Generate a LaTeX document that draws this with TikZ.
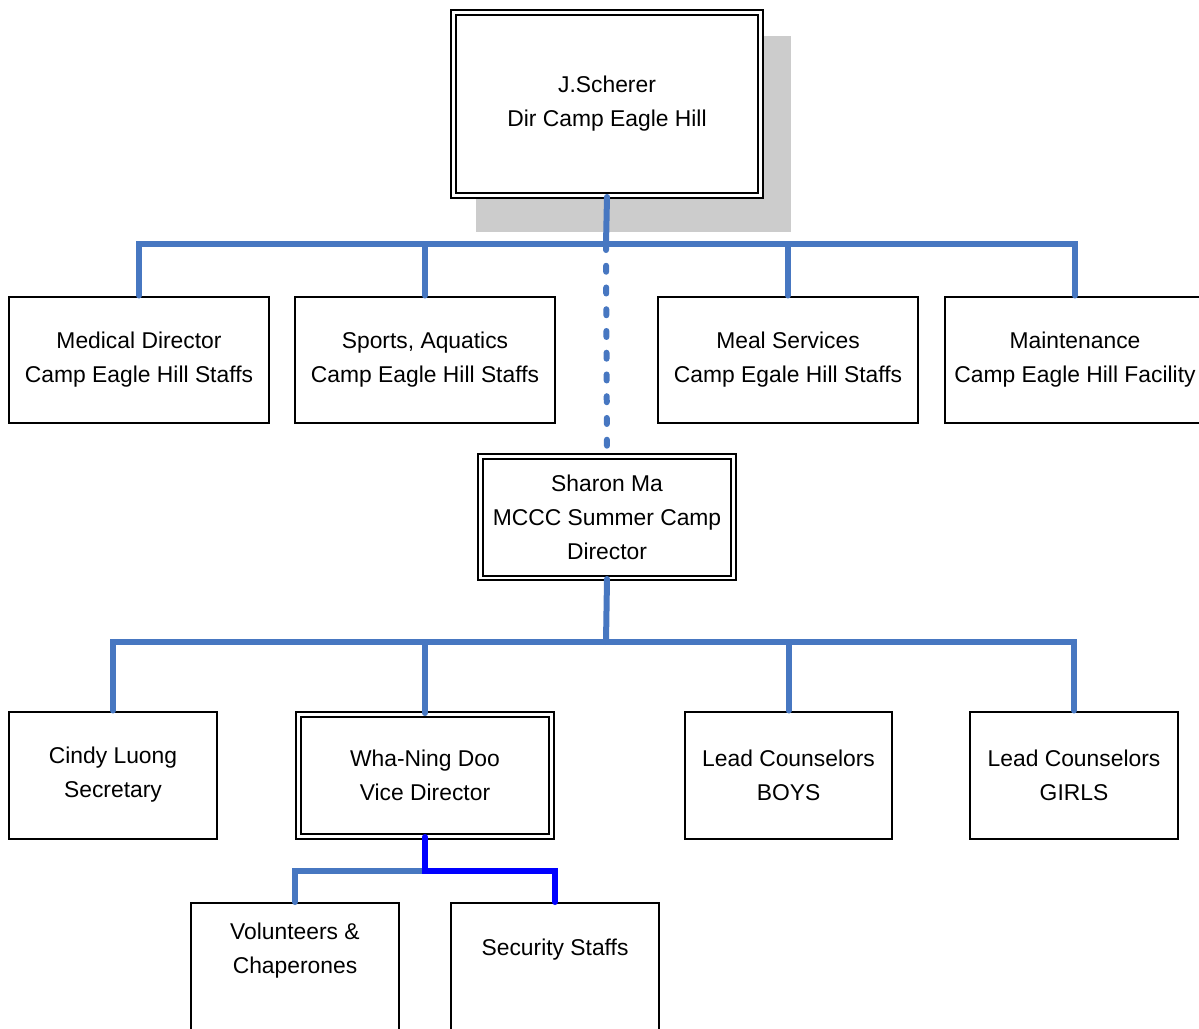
\documentclass[tikz,border=0pt]{standalone}
\usepackage{fontspec}
\setmainfont{Liberation Sans}
\usetikzlibrary{backgrounds}
\definecolor{busblue}{RGB}{71,119,193}
\definecolor{hotblue}{RGB}{0,0,255}
\definecolor{shadowgray}{RGB}{204,204,204}

\begin{document}
\begin{tikzpicture}[x=0.02cm, y=-0.02cm,
	box/.style={draw, line width=0.04cm, fill=white, minimum width=5.2cm, minimum height=2.54cm,
		inner sep=0pt, align=center, font=\fontsize{13}{19.3}\selectfont},
	narrowbox/.style={box, minimum width=4.16cm},
	dbox/.style={box, double, double distance=0.06cm, minimum width=5.08cm, minimum height=2.44cm},
	lbl/.style={inner sep=0pt, align=center, font=\fontsize{13}{19.3}\selectfont},
	bus/.style={draw=busblue, line width=0.12cm, line cap=round},
	dotbus/.style={bus, dash pattern=on 0.12cm off 0.315cm},
	hotbus/.style={bus, draw=hotblue}]
	
	\useasboundingbox (0,0) rectangle (1199,1028);
	\clip (0,0) rectangle (1199,1028);
	
	\node[dbox, minimum width=6.14cm, minimum height=3.68cm] (Dir) at (607,104) {J.Scherer\\Dir Camp Eagle Hill};
	\begin{scope}[on background layer]
		\fill[shadowgray] ([shift={(23,25)}]Dir.north west) rectangle ([shift={(30,35)}]Dir.south east);
	\end{scope}
	
	\node[box] (Med) at (139,360) {Medical Director\\Camp Eagle Hill Staffs};
	\node[box] (Sport) at (425,360) {Sports, Aquatics\\Camp Eagle Hill Staffs};
	\node[box] (Meal) at (788,360) {Meal Services\\Camp Egale Hill Staffs};
	\node[box] (Maint) at (1075,360) {Maintenance\\Camp Eagle Hill Facility};
	
	\node[dbox] (Camp) at (607,517) {Sharon Ma\\MCCC Summer Camp\\Director};
	
	\node[narrowbox] (Sec) at (113,775) {Cindy Luong\\Secretary};
	\node[dbox] (Vice) at (425,775) {Wha-Ning Doo\\Vice Director};
	\node[narrowbox] (Boys) at (788.5,775) {Lead Counselors\\BOYS};
	\node[narrowbox] (Girls) at (1074,775) {Lead Counselors\\GIRLS};
	
	\node[narrowbox, anchor=north, minimum height=2.8cm,
		label={[lbl, yshift=0.44cm]center:Volunteers \&\\Chaperones}] (Vol) at (295,902) {};
	\node[narrowbox, anchor=north, minimum height=2.8cm,
		label={[lbl, yshift=0.46cm]center:Security Staffs}] (Guard) at (555,902) {};
	
	\coordinate (top bus) at (606,244);
	\coordinate (camp bus) at (606,642);
	\coordinate (vice bus) at (425,871);
	
	\draw[bus] (Dir.south) -- (top bus);
	\foreach \n in {Med,Sport,Meal,Maint}
		\draw[bus] (\n.north) |- (top bus);
	\draw[dotbus] (top bus) -- (Camp.north);
	
	\draw[bus] (Camp.south) -- (camp bus);
	\foreach \n in {Sec,Vice,Boys,Girls}
		\draw[bus] (\n.north) |- (camp bus);
	
	\draw[bus] (Vol.north) |- (vice bus);
	\draw[hotbus] (Vice.south) -- (vice bus) -| (Guard.north);
	
\end{tikzpicture}
\end{document}
